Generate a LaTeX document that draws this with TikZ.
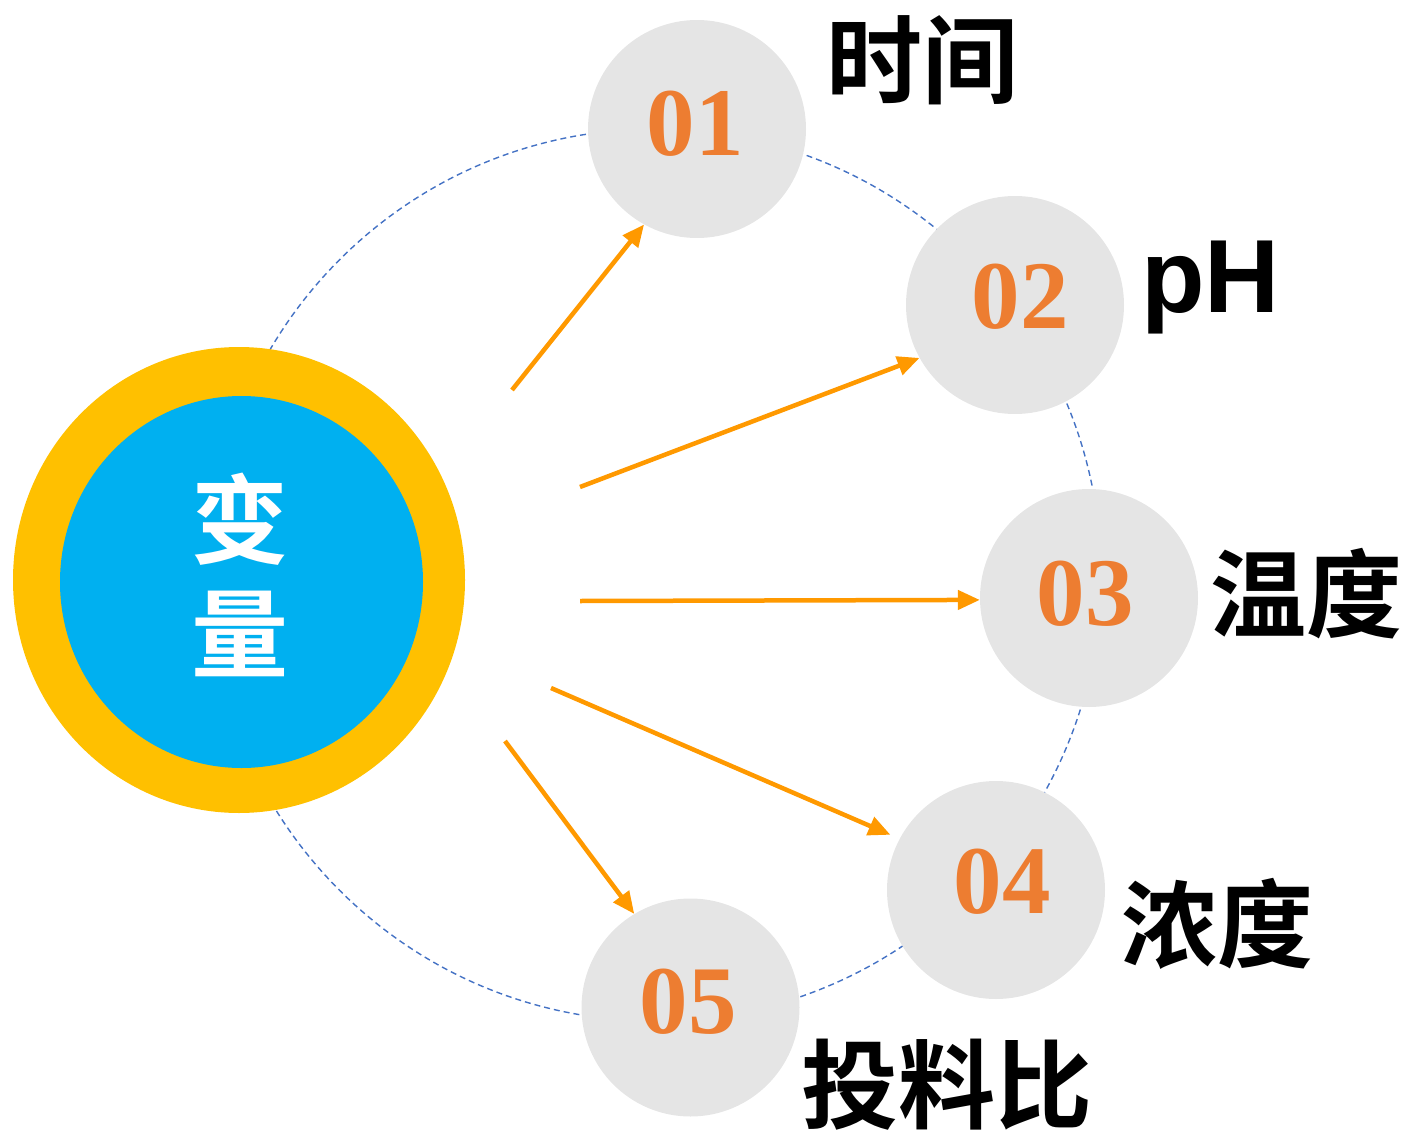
\documentclass[tikz,border=0pt]{standalone}
\usepackage{fontspec}
\usetikzlibrary{arrows.meta,shapes.geometric}
\newfontfamily\cjk{Noto Sans CJK SC}[BoldFont={Noto Sans CJK SC Bold}]
\newfontfamily\numfont{Liberation Serif}
\newfontfamily\latfont{Liberation Sans}
\definecolor{ringgold}{HTML}{FFC000}
\definecolor{coreblue}{HTML}{00B0F0}
\definecolor{bubble}{HTML}{E5E5E5}
\definecolor{numorange}{HTML}{ED7D31}
\definecolor{arrorange}{HTML}{FF9900}
\definecolor{dashblue}{HTML}{4472C4}
\begin{document}
\begin{tikzpicture}[x=1pt,y=-1pt,
  bubblec/.style={circle,fill=bubble,draw=none,minimum size=218pt,inner sep=0pt},
  numtext/.style={text=numorange,font=\numfont\bfseries\fontsize{97}{110}\selectfont,inner sep=0pt},
  cjklabel/.style={text=black,font=\cjk\bfseries\fontsize{96}{110}\selectfont,inner sep=0pt},
  arr/.style={draw=arrorange,line width=4.5pt,-{Triangle[length=22pt,width=19pt]}},
  ringdash/.style={draw=dashblue,line width=1.4pt,dash pattern=on 6pt off 4pt}]
\useasboundingbox (0,0) rectangle (1409,1132);
% dashed orbit
\draw[ringdash] (655,575) circle[radius=446pt];
% central circle
\node[ellipse,fill=ringgold,minimum width=452pt,minimum height=466pt,inner sep=0pt] (ring) at (239,580) {};
\node[ellipse,fill=coreblue,minimum width=363pt,minimum height=372pt,inner sep=0pt] (core) at (241.5,582) {};
\node[text=white,font=\cjk\bfseries\fontsize{97}{114}\selectfont,align=center,inner sep=0pt] (center) at (240,575) {变\\量};
% bubbles
\node[bubblec] (c1) at (697,129) {};
\node[bubblec] (c2) at (1015,305) {};
\node[bubblec] (c3) at (1089,598) {};
\node[bubblec] (c4) at (996,890) {};
\node[bubblec] (c5) at (690.5,1007.5) {};
\node[numtext] (n1) at (695,123.5) {01};
\node[numtext] (n2) at (1020,296.5) {02};
\node[numtext] (n3) at (1085,593.5) {03};
\node[numtext] (n4) at (1002,881.5) {04};
\node[numtext] (n5) at (688,1001.5) {05};
% labels
\node[cjklabel] (l1) at (922,60) {时间};
\node[text=black,font=\latfont\bfseries\fontsize{104}{110}\selectfont,inner sep=0pt,anchor=base west] (l2) at (1141,312) {pH};
\node[cjklabel] (l3) at (1306,594) {温度};
\node[cjklabel] (l4) at (1217,924) {浓度};
\node[cjklabel,font=\cjk\bfseries\fontsize{97}{110}\selectfont] (l5) at (947,1085) {投料比};
% arrows
\coordinate (s1) at (512,390);
\coordinate (s2) at (580,487);
\coordinate (s3) at (580,601);
\coordinate (s4) at (551,688);
\coordinate (s5) at (505,741);
\draw[arr] (s1) -- (c1.241.3);
\draw[arr] (s2) -- (c2.209.6);
\draw[arr] (s3) -- (c3.181.5);
\draw[arr,shorten >=10pt] (s4) -- (c4.152.6);
\draw[arr] (s5) -- (c5.121);
\end{tikzpicture}
\end{document}
